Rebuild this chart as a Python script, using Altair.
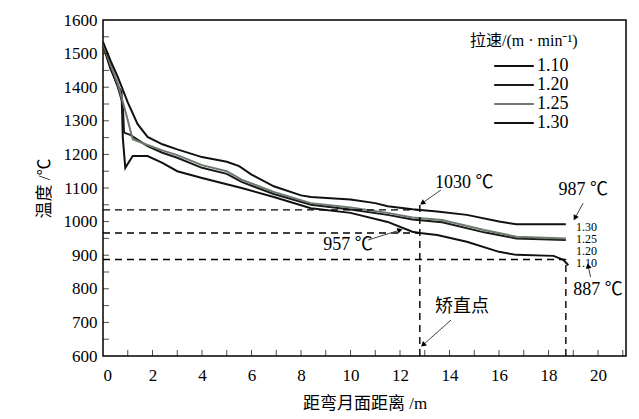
import math
import altair as alt
import pandas as pd

# ---------------- data ----------------
speeds = ["1.10", "1.20", "1.25", "1.30"]
colors = ["#111111", "#1a1a1a", "#6e7a6e", "#111111"]

x_110 = [0, 0.3, 0.6, 0.75, 0.8, 0.9, 1.2, 1.8, 2.4, 3.0, 4.0, 5.6, 6.9, 8.4, 10.0, 11.5, 12.5, 12.8, 13.5, 14.7, 16.0, 16.7, 18.2, 18.6, 18.8]
T_110 = [1525, 1455, 1405, 1385, 1250, 1160, 1195, 1195, 1175, 1150, 1130, 1100, 1073, 1040, 1026, 999, 970, 966, 960, 940, 910, 901, 898, 886, 870]

x_120 = [0, 0.3, 0.6, 0.8, 0.85, 1.1, 1.8, 2.4, 3.0, 4.0, 5.0, 5.6, 6.9, 8.4, 10.0, 11.5, 12.5, 13.7, 15.4, 16.7, 18.7]
T_120 = [1528, 1460, 1400, 1350, 1265, 1258, 1225, 1205, 1190, 1160, 1142, 1118, 1082, 1050, 1036, 1020, 1006, 998, 968, 950, 945]

x_125 = [0, 0.3, 0.6, 0.9, 1.2, 1.8, 2.4, 3.0, 4.0, 5.0, 5.6, 6.9, 8.4, 10.0, 11.5, 12.5, 13.7, 15.4, 16.7, 18.7]
T_125 = [1530, 1468, 1410, 1330, 1245, 1228, 1212, 1198, 1168, 1150, 1125, 1088, 1055, 1042, 1026, 1012, 1005, 975, 955, 950]

x_130 = [0, 0.3, 0.6, 1.0, 1.4, 1.8, 2.4, 3.0, 4.0, 5.0, 5.5, 6.0, 6.9, 8.0, 8.4, 10.0, 11.0, 11.5, 12.5, 13.5, 14.7, 16.0, 16.7, 18.7]
T_130 = [1535, 1480, 1430, 1355, 1290, 1252, 1230, 1215, 1192, 1178, 1165, 1140, 1105, 1078, 1073, 1066, 1055, 1046, 1037, 1030, 1020, 1000, 992, 992]

series = {"1.10": (x_110, T_110), "1.20": (x_120, T_120),
          "1.25": (x_125, T_125), "1.30": (x_130, T_130)}

# dashed guide lines
h_y = [1035, 966, 887]
h_xend = [12.8, 12.8, 18.7]
v_x = [12.8, 18.7]
v_ytop = [1055, 887]

# annotations: text, text position, arrow start, arrow end
ann_text = ["1030 ℃", "987 ℃", "957 ℃", "887 ℃", "矫直点"]
ann_tx = [14.6, 19.4, 9.9, 20.0, 14.5]
ann_ty = [1115, 1094, 930, 796, 746]
arr_x0 = [13.65, 19.4, 10.7, 19.7, 14.06]
arr_y0 = [1094, 1055, 945, 835, 707]
arr_x1 = [12.9, 19.07, 12.0, 19.6, 12.93]
arr_y1 = [1055, 1011, 975, 868, 633]

# right-side speed labels
end_labels = ["1.30", "1.25", "1.20", "1.10"]
end_lx = [19.07, 19.07, 19.07, 19.07]
end_ly = [984, 948, 912, 877]

x_label_values = [0, 2, 4, 6, 8, 10, 12, 14, 16, 18, 20]
y_label_values = [600, 700, 800, 900, 1000, 1100, 1200, 1300, 1400, 1500, 1600]
x_minor = list(range(1, 22))
y_minor = list(range(650, 1600, 50))

# ---------------- build ----------------
FONT = "'Liberation Serif', 'Times New Roman', 'Noto Sans CJK SC', serif"
W, H = 523, 336
XMAX = 21.13
PX_X = W / XMAX
PX_Y = H / 1000.0

rows = []
for s, (xs_, ts_) in series.items():
    for i, (a, b) in enumerate(zip(xs_, ts_)):
        rows.append({"speed": s, "x": a, "T": b, "order": i})
df = pd.DataFrame(rows)

xsc = alt.Scale(domain=[0, XMAX], nice=False, zero=False)
ysc = alt.Scale(domain=[600, 1600], nice=False, zero=False)

x_axis = alt.Axis(
    values=x_label_values, title="距弯月面距离 /m", grid=False, domain=False,
    tickSize=0, format="d", labelFont=FONT, labelFontSize=17, labelColor="black",
    labelPadding=11, titleFont=FONT, titleFontSize=17, titleFontWeight="normal",
    titleColor="black", titlePadding=12)
y_axis = alt.Axis(
    values=y_label_values, title="温度 /℃", grid=False, domain=False,
    tickSize=0, format="d", labelFont=FONT, labelFontSize=17, labelColor="black",
    labelPadding=6, titleFont=FONT, titleFontSize=17, titleFontWeight="normal",
    titleColor="black", titlePadding=10)


def X(f):
    return alt.X(f, scale=xsc, axis=x_axis)


def Y(f):
    return alt.Y(f, scale=ysc, axis=y_axis)


lines = alt.Chart(df).mark_line(strokeWidth=2).encode(
    x=X("x:Q"),
    y=Y("T:Q"),
    color=alt.Color("speed:N", scale=alt.Scale(domain=speeds, range=colors),
                    legend=alt.Legend(title=None, orient="none", legendX=401, legendY=36,
                                      symbolType="M-2.2,0L2.2,0", symbolStrokeWidth=2,
                                      symbolSize=324, labelFont=FONT, labelFontSize=18,
                                      labelColor="black", labelOffset=13, rowPadding=0,
                                      padding=0)),
    order="order:Q",
)

legend_title = alt.Chart(pd.DataFrame({"t": ["拉速/(m · min⁻¹)"]})).mark_text(
    align="left", baseline="middle", font=FONT, fontSize=16, color="black"
).encode(text="t:N", x=alt.value(367), y=alt.value(21))

hdf = pd.DataFrame({"y": h_y, "x0": [0] * len(h_y), "x1": h_xend})
hrules = alt.Chart(hdf).mark_rule(strokeDash=[7, 5], strokeWidth=1.4, color="black").encode(
    x=X("x0:Q"), x2="x1:Q", y=Y("y:Q"))

vdf = pd.DataFrame({"x": v_x, "y0": [600] * len(v_x), "y1": v_ytop})
vrules = alt.Chart(vdf).mark_rule(strokeDash=[7, 5], strokeWidth=1.4, color="black").encode(
    x=X("x:Q"), y=Y("y0:Q"), y2="y1:Q")

adf = pd.DataFrame({"text": ann_text, "tx": ann_tx, "ty": ann_ty,
                    "x0": arr_x0, "y0": arr_y0, "x1": arr_x1, "y1": arr_y1})
adf["angle"] = [
    (math.degrees(math.atan2((b - a) * PX_X, (d - c) * PX_Y)) + 360) % 360
    for a, b, c, d in zip(arr_x0, arr_x1, arr_y0, arr_y1)
]

ann_txt = alt.Chart(adf).mark_text(font=FONT, fontSize=18, color="black",
                                   align="center", baseline="middle").encode(
    x=X("tx:Q"), y=Y("ty:Q"), text="text:N")

ann_lines = alt.Chart(adf).mark_rule(strokeWidth=1, color="#444444").encode(
    x=X("x0:Q"), x2="x1:Q", y=Y("y0:Q"), y2="y1:Q")

ann_heads = alt.Chart(adf).mark_point(shape="triangle-up", filled=True, size=35,
                                      color="black", opacity=1).encode(
    x=X("x1:Q"), y=Y("y1:Q"), angle=alt.Angle("angle:Q", scale=None))

edf = pd.DataFrame({"t": end_labels, "x": end_lx, "y": end_ly})
end_txt = alt.Chart(edf).mark_text(font=FONT, fontSize=12, color="black",
                                   align="left", baseline="middle", dx=1).encode(
    x=X("x:Q"), y=Y("y:Q"), text="t:N")

xt = alt.Chart(pd.DataFrame({"t": x_minor})).mark_tick(
    orient="vertical", size=6, thickness=1, color="black").encode(
    x=X("t:Q"), y=alt.value(H - 3))

yt = alt.Chart(pd.DataFrame({"t": y_minor})).mark_tick(
    orient="horizontal", size=6, thickness=1, color="black").encode(
    y=Y("t:Q"), x=alt.value(3))

chart = alt.layer(
    lines, hrules, vrules, xt, yt, ann_lines, ann_heads, ann_txt, end_txt, legend_title
).properties(
    width=W, height=H, autosize="none",
    padding={"left": 95, "top": 12, "right": 5, "bottom": 62},
    background="white",
).configure_view(stroke="black", strokeWidth=1.5)

chart.save("out.html", embed_options={"renderer": "svg", "actions": False})
